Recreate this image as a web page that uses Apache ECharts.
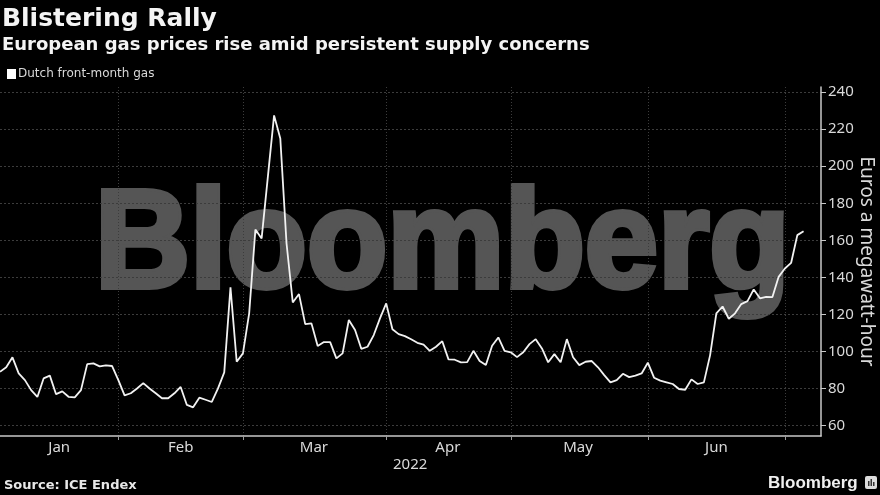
<!DOCTYPE html>
<html>
<head>
<meta charset="utf-8">
<title>Blistering Rally</title>
<style>
  html, body { margin: 0; padding: 0; background: #000; }
  #chart { width: 880px; height: 495px; }
</style>
<script src="https://cdn.jsdelivr.net/npm/echarts@6/dist/echarts.min.js"></script>
</head>
<body>
<div id="chart"></div>
<script>
// trading days, one value per day from early January 2022
const gasPrices = [
  89.1, 91.5, 96.9, 88.2, 84.6, 79.2, 75.5, 85.5, 87, 77,
  78.5, 75.6, 75.3, 79.2, 93.2, 93.6, 92, 92.5, 92.2, 84.6,
  76.4, 77.5, 80.1, 83, 80.1, 77.5, 74.8, 74.8, 77.5, 80.9,
  71.2, 69.9, 75.1, 74, 72.8, 80.1, 88.8, 134.6, 94.5, 99,
  120.6, 165.8, 161, 194.2, 227.4, 214.9, 158.3, 126.5, 131, 114.8,
  115.2, 103, 105.1, 105.1, 96.3, 99, 117, 111.6, 101.5, 102.6,
  108.9, 117.9, 126, 112, 109.4, 108.3, 106.6, 104.7, 103.7, 100.4,
  102.6, 105.6, 95.8, 95.6, 94.2, 94.3, 100.4, 94.9, 92.7, 103.1,
  107.6, 100.4, 99.6, 97, 99.6, 104, 106.7, 101.7, 94.2, 98.6,
  94.2, 106.7, 96.9, 92.7, 94.5, 94.9, 91.5, 87.3, 83.4, 84.6,
  88, 86.2, 87, 88.2, 94, 85.9, 84.3, 83.4, 82.5, 79.8,
  79.4, 85, 82.5, 83.4, 98.1, 120.6, 124.3, 117.7, 120.6, 125.6,
  127.2, 133.5, 128.7, 129.5, 129.4, 140.3, 144.8, 147.8, 162.8, 164.9
];
const monthNames = ['Jan', 'Feb', 'Mar', 'Apr', 'May', 'Jun'];
const monthCenters = [9.5, 29, 50.4, 71.9, 92.8, 115]; // where the names sit
const monthStarts = [19, 39, 62, 82, 104, 126];        // trading day index of each month start
const priceTicks = [60, 80, 100, 120, 140, 160, 180, 200, 220, 240];
const seriesName = 'Dutch front-month gas';

const bodyFont = '"DejaVu Sans", sans-serif';
const labelFont = '"Noto Sans", sans-serif';
const textColor = '#d9d9d9';
const gridColor = '#3c3c3c';

const chart = echarts.init(document.getElementById('chart'));

chart.setOption({
  animation: false,
  backgroundColor: '#000',
  textStyle: { fontFamily: bodyFont },
  grid: { left: 0, right: 59, top: 87, bottom: 59, outerBoundsMode: 'none' },
  legend: {
    left: 2,
    top: 63,
    itemWidth: 9,
    itemHeight: 10,
    itemGap: 0,
    icon: 'rect',
    textStyle: { color: textColor, fontSize: 12, padding: [0, 0, 0, -3] },
    data: [seriesName]
  },
  xAxis: {
    type: 'value',
    min: 0,
    max: 131.8,
    axisLine: { show: true, onZero: false, lineStyle: { color: '#c8c8c8', width: 1.5 } },
    axisTick: { show: true, customValues: monthStarts, length: 4, lineStyle: { color: '#9a9a9a' } },
    axisLabel: {
      customValues: monthCenters,
      color: textColor,
      fontSize: 15,
      fontFamily: labelFont,
      margin: 4,
      formatter: (v) => monthNames[monthCenters.indexOf(v)]
    },
    splitLine: { show: true, lineStyle: { color: gridColor, type: [1, 2] } }
  },
  yAxis: {
    type: 'value',
    position: 'right',
    min: 54.45,
    max: 242.7,
    name: 'Euros a megawatt-hour',
    nameLocation: 'middle',
    nameRotate: -90,
    nameGap: 36,
    nameMoveOverlap: false,
    nameTextStyle: { color: textColor, fontSize: 19, fontFamily: labelFont },
    axisLine: { show: true, onZero: false, lineStyle: { color: '#c8c8c8', width: 1.5 } },
    axisTick: { show: true, customValues: priceTicks, length: 5, lineStyle: { color: '#c8c8c8' } },
    axisLabel: {
      customValues: priceTicks,
      color: textColor,
      fontSize: 15,
      fontFamily: labelFont,
      margin: 7
    },
    splitLine: { show: true, lineStyle: { color: gridColor, type: [2, 2] } }
  },
  series: [{
    name: seriesName,
    type: 'line',
    data: gasPrices.map((v, i) => [i, v]),
    symbol: 'none',
    itemStyle: { color: '#fff' },
    lineStyle: { color: '#f2f2f2', width: 1.8 },
    z: 5
  }],
  graphic: [
    {
      type: 'text', x: 95, y: 178, z: -1, scaleX: 0.94,
      style: {
        text: 'Bloomberg', fill: '#555555', stroke: '#555555', lineWidth: 6,
        font: 'bold 140px "Liberation Sans", Arial, sans-serif'
      }
    },
    {
      type: 'text', x: 2, y: 7,
      style: { text: 'Blistering Rally', fill: '#f4f4f4', font: 'bold 25px ' + bodyFont }
    },
    {
      type: 'text', x: 2, y: 36,
      style: { text: 'European gas prices rise amid persistent supply concerns', fill: '#f4f4f4', font: 'bold 18px ' + bodyFont }
    },
    {
      type: 'text', x: 393, y: 457,
      style: { text: '2022', fill: textColor, font: '15px ' + labelFont }
    },
    {
      type: 'text', x: 4, y: 479,
      style: { text: 'Source: ICE Endex', fill: '#e8e8e8', font: 'bold 13px ' + bodyFont }
    },
    {
      type: 'text', x: 768, y: 475,
      style: { text: 'Bloomberg', fill: '#f0f0f0', font: 'bold 17px "Liberation Sans", Arial, sans-serif' }
    },
    { type: 'rect', shape: { x: 865, y: 476, width: 12, height: 13, r: 2 }, style: { fill: '#dcdcdc' } },
    { type: 'rect', shape: { x: 868, y: 481, width: 1.5, height: 5 }, style: { fill: '#333' } },
    { type: 'rect', shape: { x: 870.5, y: 479, width: 1.5, height: 7 }, style: { fill: '#333' } },
    { type: 'rect', shape: { x: 873, y: 482, width: 1.5, height: 4 }, style: { fill: '#333' } }
  ]
});
</script>
</body>
</html>
